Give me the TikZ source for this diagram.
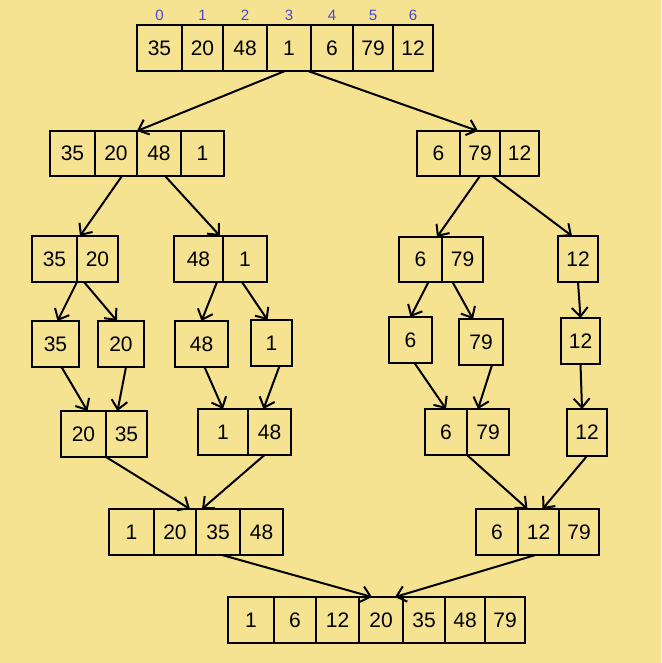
\documentclass[tikz,border=0pt]{standalone}
\usepackage{fontspec}
\setmainfont{Liberation Sans}
\usepackage{xcolor}
\definecolor{paperyellow}{RGB}{245,227,146}
\definecolor{indexblue}{RGB}{72,72,215}
\usepackage{tikz}
\usetikzlibrary{arrows.meta,positioning}

\begin{document}
\begin{tikzpicture}[
    x=1pt, y=-1pt,
    cell/.style={rectangle, draw, line width=2.4pt, minimum width=#1, minimum height=46pt, inner sep=0pt, outer sep=0pt, font=\fontsize{21}{24}\selectfont},
    idx/.style={font=\fontsize{15}{16}\selectfont, text=indexblue, inner sep=1pt},
    arrow/.style={->, >={Straight Barb[length=9pt,width=16pt]}, line width=2pt}
]
\fill[paperyellow] (0,0) rectangle (661,663);

% Input array
\node[cell=45pt, anchor=north west] (t0) at (137,25) {35};
\node[cell=41pt, right=0pt of t0] (t1) {20};
\node[cell=44pt, right=0pt of t1] (t2) {48};
\node[cell=44pt, right=0pt of t2] (t3) {1};
\node[cell=42pt, right=0pt of t3] (t4) {6};
\node[cell=40pt, right=0pt of t4] (t5) {79};
\node[cell=40pt, right=0pt of t5] (t6) {12};

% Indices
\node[idx, above=3pt of t0] (i0) {0};
\node[idx, above=3pt of t1] (i1) {1};
\node[idx, above=3pt of t2] (i2) {2};
\node[idx, above=3pt of t3] (i3) {3};
\node[idx, above=3pt of t4] (i4) {4};
\node[idx, above=3pt of t5] (i5) {5};
\node[idx, above=3pt of t6] (i6) {6};

% First split
\node[cell=45pt, anchor=north west, minimum height=45pt] (a0) at (50,131) {35};
\node[cell=42pt, right=0pt of a0, minimum height=45pt] (a1) {20};
\node[cell=44pt, right=0pt of a1, minimum height=45pt] (a2) {48};
\node[cell=43pt, right=0pt of a2, minimum height=45pt] (a3) {1};

\node[cell=43pt, anchor=north west, minimum height=45pt] (b0) at (417,131) {6};
\node[cell=40pt, right=0pt of b0, minimum height=45pt] (b1) {79};
\node[cell=39pt, right=0pt of b1, minimum height=45pt] (b2) {12};

% Second split
\node[cell=45pt, anchor=north west] (c0) at (32,236) {35};
\node[cell=41pt, right=0pt of c0] (c1) {20};

\node[cell=49pt, anchor=north west] (d0) at (174,236) {48};
\node[cell=44pt, right=0pt of d0] (d1) {1};

\node[cell=43pt, anchor=north west, minimum height=45pt] (e0) at (399,237) {6};
\node[cell=41pt, right=0pt of e0, minimum height=45pt] (e1) {79};

\node[cell=40pt, anchor=north west] (f0) at (558,236) {12};

% Single elements
\node[cell=47pt, anchor=north west] (g1) at (32,321) {35};
\node[cell=46pt, anchor=north west] (g2) at (98,321) {20};
\node[cell=53pt, anchor=north west] (g3) at (175,321) {48};
\node[cell=41pt, anchor=north west] (g4) at (251,320) {1};
\node[cell=43pt, anchor=north west] (g5) at (389,317) {6};
\node[cell=44pt, anchor=north west] (g6) at (459,319) {79};
\node[cell=39pt, anchor=north west] (g7) at (561,318) {12};

% First merge
\node[cell=45pt, anchor=north west] (h0) at (61,411) {20};
\node[cell=41pt, right=0pt of h0] (h1) {35};

\node[cell=50pt, anchor=north west] (j0) at (198,409) {1};
\node[cell=43pt, right=0pt of j0] (j1) {48};

\node[cell=42pt, anchor=north west] (k0) at (425,409) {6};
\node[cell=42pt, right=0pt of k0] (k1) {79};

\node[cell=40pt, anchor=north west, minimum height=47pt] (l0) at (567,409) {12};

% Second merge
\node[cell=45pt, anchor=north west] (m0) at (109,509) {1};
\node[cell=42pt, right=0pt of m0] (m1) {20};
\node[cell=44pt, right=0pt of m1] (m2) {35};
\node[cell=43pt, right=0pt of m2] (m3) {48};

\node[cell=42pt, anchor=north west] (n0) at (476,509) {6};
\node[cell=41pt, right=0pt of n0] (n1) {12};
\node[cell=40pt, right=0pt of n1] (n2) {79};

% Sorted array
\node[cell=46pt, anchor=north west] (r0) at (228,597) {1};
\node[cell=42pt, right=0pt of r0] (r1) {6};
\node[cell=43pt, right=0pt of r1] (r2) {12};
\node[cell=44pt, right=0pt of r2] (r3) {20};
\node[cell=42pt, right=0pt of r3] (r4) {35};
\node[cell=40pt, right=0pt of r4] (r5) {48};
\node[cell=40pt, right=0pt of r5] (r6) {79};

% Splitting arrows
\draw[arrow] ([xshift=-4pt]t3.south) -- (a2.north west);
\draw[arrow] ([xshift=-3pt]t3.south east) -- ([xshift=-2pt]b1.north);
\draw[arrow] ([xshift=6pt]a1.south) -- ([xshift=3pt]c1.north west);
\draw[arrow] ([xshift=6pt]a2.south) -- ([xshift=-3pt]d1.north west);
\draw[arrow] (b1.south) -- ([xshift=-5pt]e1.north west);
\draw[arrow] ([xshift=12pt]b1.south) -- ([xshift=-6pt]f0.north);
\draw[arrow] (c0.south east) -- ([xshift=2pt]g1.north);
\draw[arrow] ([xshift=7pt]c1.south west) -- ([xshift=-4pt]g2.north);
\draw[arrow] ([xshift=-6pt]d0.south east) -- (g3.north);
\draw[arrow] ([xshift=-3pt]d1.south) -- ([xshift=-4pt]g4.north);
\draw[arrow] ([xshift=8pt]e0.south) -- (g5.north);
\draw[arrow] ([xshift=-10pt]e1.south) -- ([xshift=-8pt]g6.north);
\draw[arrow] (f0.south) -- (g7.north);

% Merging arrows
\draw[arrow] ([xshift=6pt]g1.south) -- ([xshift=4pt]h0.north);
\draw[arrow] ([xshift=5pt]g2.south) -- ([xshift=-9pt]h1.north);
\draw[arrow] ([xshift=3pt]g3.south) -- (j0.north);
\draw[arrow] ([xshift=8pt]g4.south) -- ([xshift=-6pt]j1.north);
\draw[arrow] ([xshift=4pt]g5.south) -- (k0.north);
\draw[arrow] ([xshift=11pt]g6.south) -- ([xshift=-10pt]k1.north);
\draw[arrow] (g7.south) -- ([xshift=-5pt]l0.north);
\draw[arrow] (h0.south east) -- ([xshift=-6pt]m1.north east);
\draw[arrow] ([xshift=-5pt]j1.south) -- ([xshift=6pt]m2.north west);
\draw[arrow] (k0.south east) -- ([xshift=-11pt]n1.north);
\draw[arrow] (l0.south) -- ([xshift=4pt]n1.north);
\draw[arrow] ([xshift=4pt]m2.south) -- ([xshift=13pt]r3.north west);
\draw[arrow] ([xshift=-3pt]n1.south) -- ([xshift=14pt]r3.north);
\end{tikzpicture}
\end{document}
